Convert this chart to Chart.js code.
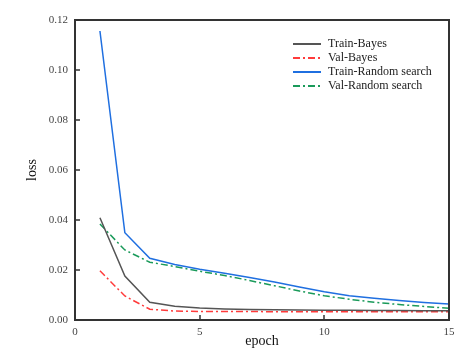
<!DOCTYPE html>
<html>
<head>
<meta charset="utf-8">
<script src="https://cdn.jsdelivr.net/npm/chart.js@4/dist/chart.umd.min.js"></script>
<style>
html,body{margin:0;padding:0;background:#fff;}
#wrap{width:470px;height:354px;}
</style>
</head>
<body>
<div id="wrap"><canvas id="c" width="470" height="354"></canvas></div>
<script>
const epochs = [1,2,3,4,5,6,7,8,9,10,11,12,13,14,15];
const trainBayes = [0.0409,0.0176,0.0071,0.0055,0.0048,0.0044,0.0042,0.0041,0.0040,0.0039,0.0039,0.0038,0.0038,0.0037,0.0037];
const valBayes = [0.0197,0.0096,0.0043,0.0036,0.0034,0.0034,0.0034,0.0033,0.0033,0.0033,0.0033,0.0033,0.0033,0.0033,0.0033];
const trainRandom = [0.1156,0.0349,0.0247,0.0222,0.0203,0.0187,0.0170,0.0152,0.0132,0.0113,0.0097,0.0087,0.0078,0.0070,0.0064];
const valRandom = [0.0384,0.0280,0.0231,0.0214,0.0195,0.0178,0.0158,0.0137,0.0116,0.0097,0.0083,0.0071,0.0062,0.0054,0.0047];
const seriesNames = ['Train-Bayes','Val-Bayes','Train-Random search','Val-Random search'];
const xTicks = [0,5,10,15];
const yTicks = [0,0.02,0.04,0.06,0.08,0.10,0.12];

const serif = "'Liberation Serif', 'DejaVu Serif', serif";
const dashDot = [7,3,2,3];
function pts(arr){ return epochs.map((e,i)=>({x:e,y:arr[i]})); }

const styles = [
  {color:'#555555', dash:[]},
  {color:'#ff3b3b', dash:dashDot},
  {color:'#1f6fe0', dash:[]},
  {color:'#1a9a5a', dash:dashDot}
];
const seriesData = [trainBayes, valBayes, trainRandom, valRandom];

const framePlugin = {
  id:'frame',
  afterDatasetsDraw(chart){
    const {ctx, chartArea:a, scales:{x,y}} = chart;
    ctx.save();
    ctx.strokeStyle = '#333';
    ctx.lineWidth = 2;
    ctx.strokeRect(a.left, a.top, a.right-a.left, a.bottom-a.top);
    ctx.lineWidth = 1.5;
    ctx.beginPath();
    xTicks.forEach(v=>{ const px=Math.round(x.getPixelForValue(v)); ctx.moveTo(px,a.bottom); ctx.lineTo(px,a.bottom-5); });
    yTicks.forEach(v=>{ const py=Math.round(y.getPixelForValue(v)); ctx.moveTo(a.left,py); ctx.lineTo(a.left+5,py); });
    ctx.stroke();
    // legend
    ctx.font = "12px " + serif;
    ctx.textBaseline = 'middle';
    ctx.fillStyle = '#222';
    chart.data.datasets.forEach((ds,i)=>{
      const yy = 44 + i*14;
      ctx.strokeStyle = ds.borderColor;
      ctx.lineWidth = 2;
      ctx.setLineDash(ds.borderDash || []);
      ctx.beginPath(); ctx.moveTo(293,yy); ctx.lineTo(321,yy); ctx.stroke();
      ctx.setLineDash([]);
      ctx.fillText(ds.label, 328, yy);
    });
    ctx.restore();
  }
};

new Chart(document.getElementById('c'), {
  type:'line',
  data:{
    datasets: seriesNames.map((n,i)=>({
      label:n, data:pts(seriesData[i]),
      borderColor:styles[i].color, borderDash:styles[i].dash,
      borderWidth:1.5, pointRadius:0, fill:false, tension:0
    }))
  },
  options:{
    responsive:false, animation:false,
    layout:{padding:{left:0,right:21,top:20,bottom:0}},
    plugins:{legend:{display:false}, tooltip:{enabled:false}},
    scales:{
      x:{
        type:'linear', min:0, max:15,
        afterBuildTicks(s){ s.ticks = xTicks.map(v=>({value:v})); },
        afterFit(s){ s.height = 34; },
        grid:{display:false, drawTicks:false},
        border:{display:false},
        ticks:{padding:6, color:'#444', font:{family:serif, size:11}, maxRotation:0},
        title:{display:true, text:'epoch', color:'#111', font:{family:serif, size:14}, padding:{top:0,bottom:4}}
      },
      y:{
        min:0, max:0.12,
        afterBuildTicks(s){ s.ticks = yTicks.map(v=>({value:v})); },
        afterFit(s){ s.width = 75; },
        grid:{display:false, drawTicks:false},
        border:{display:false},
        ticks:{padding:7, color:'#444', font:{family:serif, size:11}, callback:v=>v.toFixed(2)},
        title:{display:true, text:'loss', color:'#111', font:{family:serif, size:14}, padding:{top:24,bottom:0}}
      }
    }
  },
  plugins:[framePlugin]
});
</script>
</body>
</html>
